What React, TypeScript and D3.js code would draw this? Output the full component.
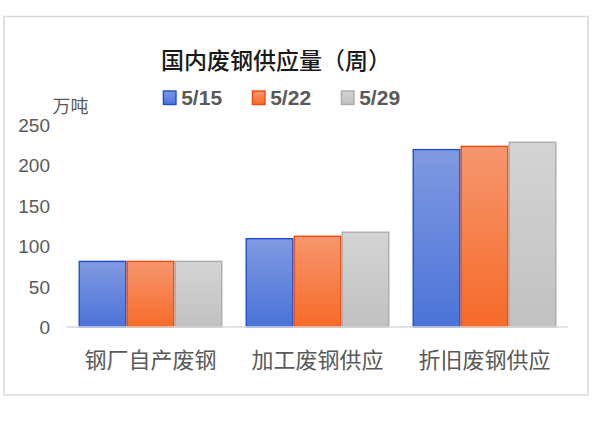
import React from "react";
import * as d3 from "d3";

const categories = ["钢厂自产废钢", "加工废钢供应", "折旧废钢供应"];
const seriesNames = ["5/15", "5/22", "5/29"];
const values515 = [81, 109, 219];
const values522 = [81, 112, 223];
const values529 = [81, 117, 228];
const yTicks = [0, 50, 100, 150, 200, 250];
const title = "国内废钢供应量（周）";
const unitLabel = "万吨";

const seriesValues = [values515, values522, values529];
const fills = [
  { top: "#8099e1", bottom: "#4a73d8", stroke: "#1c4fd4" },
  { top: "#f6966d", bottom: "#f76a29", stroke: "#f2490c" },
  { top: "#d4d4d4", bottom: "#c1c1c1", stroke: "#ababab" },
];

export default function App() {
  const W = 600;
  const H = 422;
  const x0 = d3
    .scaleBand<string>()
    .domain(categories)
    .range([67, 568])
    .paddingInner(0.138)
    .paddingOuter(0.069);
  const x1 = d3
    .scaleBand<string>()
    .domain(seriesNames)
    .range([0, x0.bandwidth()])
    .padding(0);
  const y = d3.scaleLinear().domain([0, 250]).range([327, 124.5]);

  const legendX = [162.7, 251.7, 340.7];

  return (
    <svg
      width={W}
      height={H}
      style={{ position: "absolute", left: 0, top: 0, background: "#fff" }}
    >
      <defs>
        {fills.map((f, i) => (
          <linearGradient key={i} id={`g${i}`} x1="0" y1="0" x2="0" y2="1">
            <stop offset="0%" stopColor={f.top} />
            <stop offset="100%" stopColor={f.bottom} />
          </linearGradient>
        ))}
      </defs>
      <rect x={0} y={0} width={W} height={H} fill="#fff" />
      <rect
        x={4}
        y={16.5}
        width={584}
        height={378.5}
        fill="#fff"
        stroke="#d9d9d9"
        strokeWidth={1.5}
      />
      <text
        x={276}
        y={68.5}
        textAnchor="middle"
        fontFamily="'Noto Sans CJK SC', sans-serif"
        fontSize={23}
        fontWeight={500}
        fill="#1a1a1a"
      >
        {title}
      </text>
      {seriesNames.map((s, i) => (
        <g key={s}>
          <rect
            x={legendX[i] + 0.7}
            y={91}
            width={12.6}
            height={13.5}
            fill={`url(#g${i})`}
            stroke={fills[i].stroke}
            strokeWidth={1.4}
          />
          <text
            x={legendX[i] + 18.5}
            y={105}
            fontFamily="'Liberation Sans', Arial, sans-serif"
            fontWeight={700}
            fontSize={21}
            fill="#595959"
          >
            {s}
          </text>
        </g>
      ))}
      <text
        x={52.5}
        y={113}
        fontFamily="'Noto Sans CJK SC', sans-serif"
        fontSize={18}
        fill="#595959"
      >
        {unitLabel}
      </text>
      {yTicks.map((t) => (
        <text
          key={t}
          x={50}
          y={y(t) + 7}
          textAnchor="end"
          fontFamily="'Liberation Sans', Arial, sans-serif"
          fontSize={19}
          fill="#595959"
        >
          {t}
        </text>
      ))}
      {categories.map((c, ci) => (
        <g key={c} transform={`translate(${x0(c)},0)`}>
          {seriesNames.map((s, si) => {
            const v = seriesValues[si][ci];
            return (
              <rect
                key={s}
                x={(x1(s) as number) + 0.7}
                y={y(v)}
                width={x1.bandwidth() - 1.4}
                height={y(0) - y(v)}
                fill={`url(#g${si})`}
                stroke={fills[si].stroke}
                strokeWidth={1.4}
              />
            );
          })}
        </g>
      ))}
      <line x1={67} x2={568} y1={327} y2={327} stroke="#d9d9d9" strokeWidth={1.5} />
      {categories.map((c) => (
        <text
          key={c}
          x={(x0(c) as number) + x0.bandwidth() / 2}
          y={368}
          textAnchor="middle"
          fontFamily="'Noto Sans CJK SC', sans-serif"
          fontSize={22}
          fill="#595959"
        >
          {c}
        </text>
      ))}
    </svg>
  );
}
